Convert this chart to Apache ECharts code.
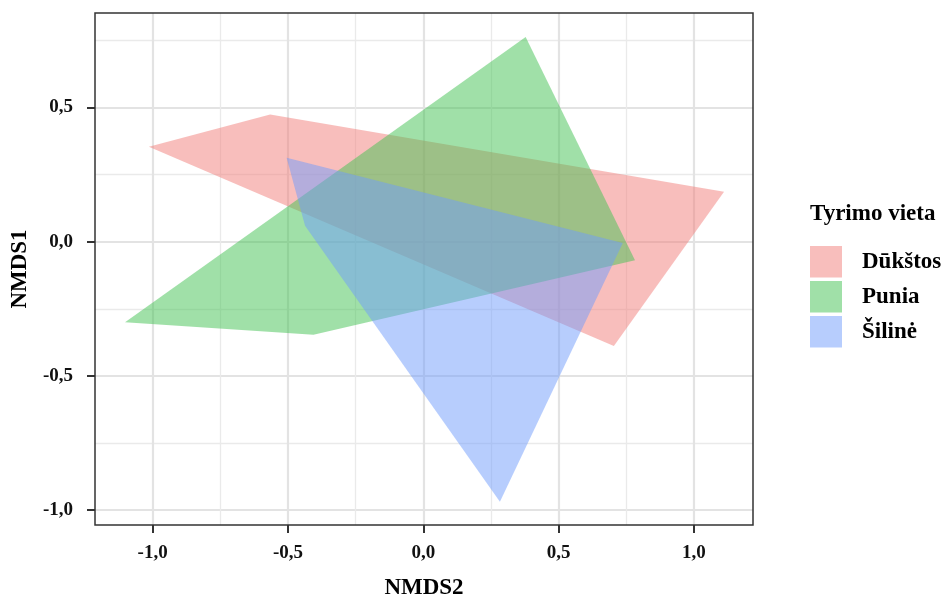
<!DOCTYPE html>
<html>
<head>
<meta charset="utf-8">
<script src="https://cdn.jsdelivr.net/npm/echarts@6/dist/echarts.min.js"></script>
<style>
html,body{margin:0;padding:0;background:#fff;overflow:hidden;}
#chart{width:947px;height:605px;}
</style>
</head>
<body>
<div id="chart"></div>
<script>
// ---- data ----
const groups = ['Dūkštos', 'Punia', 'Šilinė'];
const dukstosX = [-1.014, -0.566, 1.111, 0.704];
const dukstosY = [0.353, 0.473, 0.186, -0.389];
const puniaX = [0.378, 0.782, -0.406, -1.102];
const puniaY = [0.762, -0.069, -0.347, -0.300];
const silineX = [-0.505, 0.737, 0.283, -0.437];
const silineY = [0.312, -0.005, -0.968, 0.059];
const xMajorTicks = [-1.0, -0.5, 0.0, 0.5, 1.0];
const xMinorTicks = [-0.75, -0.25, 0.25, 0.75];
const yMajorTicks = [-1.0, -0.5, 0.0, 0.5];
const yMinorTicks = [-0.75, -0.25, 0.25, 0.75];
const xTitle = 'NMDS2';
const yTitle = 'NMDS1';
const legendTitle = 'Tyrimo vieta';

// ---- styling ----
const xRange = [-1.213, 1.218];
const yRange = [-1.055, 0.851];
const fills = ['rgba(241,125,121,0.5)', 'rgba(65,193,81,0.5)', 'rgba(111,155,251,0.5)'];
const FONT = "'Liberation Serif', 'Times New Roman', serif";
const fmt = v => v.toFixed(1).replace('.', ',');

const polys = [
  dukstosX.map((x, i) => [x, dukstosY[i]]),
  puniaX.map((x, i) => [x, puniaY[i]]),
  silineX.map((x, i) => [x, silineY[i]])
];

function makeSeries(idx) {
  const pts = polys[idx];
  return {
    type: 'custom',
    name: groups[idx],
    xAxisIndex: 0, yAxisIndex: 0,
    coordinateSystem: 'cartesian2d',
    data: pts,
    encode: { x: 0, y: 1 },
    itemStyle: { color: fills[idx] },
    z: 2 + idx,
    silent: true,
    renderItem: function (params, api) {
      if (params.dataIndex !== 0) return null;
      const pp = pts.map(p => api.coord(p));
      return { type: 'polygon', shape: { points: pp }, style: { fill: fills[idx] } };
    }
  };
}

const chart = echarts.init(document.getElementById('chart'), null, { renderer: 'canvas', width: 947, height: 605 });
chart.setOption({
  animation: false,
  backgroundColor: '#ffffff',
  grid: { left: 95, top: 13, width: 658, height: 517, show: true, borderColor: '#333333', borderWidth: 1.5, backgroundColor: 'transparent', z: 10 },
  title: {
    text: legendTitle, left: 810, top: 203, padding: 0,
    textStyle: { fontFamily: FONT, fontWeight: 'bold', fontSize: 23, color: '#000' }
  },
  legend: {
    data: groups, orient: 'vertical', left: 810, top: 246, padding: 0,
    itemWidth: 32, itemHeight: 31.5, itemGap: 3.5, icon: 'rect',
    selectedMode: false,
    textStyle: { fontFamily: FONT, fontWeight: 'bold', fontSize: 23, color: '#000', padding: [0, 0, 0, 15] }
  },
  xAxis: [
    {
      type: 'value', min: xRange[0], max: xRange[1], position: 'bottom',
      name: xTitle, nameLocation: 'middle', nameGap: 52,
      nameTextStyle: { fontFamily: FONT, fontWeight: 'bold', fontSize: 23, color: '#000' },
      axisLine: { show: false, onZero: false },
      axisTick: { show: true, customValues: xMajorTicks, length: 8, lineStyle: { color: '#333', width: 2 } },
      axisLabel: { customValues: xMajorTicks, formatter: fmt, margin: 19, fontFamily: FONT, fontWeight: 'bold', fontSize: 19, color: '#111' },
      splitLine: { show: true, lineStyle: { color: '#E3E3E3', width: 2.2 } }
    },
    {
      type: 'value', min: xRange[0], max: xRange[1], position: 'bottom',
      axisLine: { show: false, onZero: false },
      axisTick: { show: false, customValues: xMinorTicks },
      axisLabel: { show: false, customValues: xMinorTicks },
      splitLine: { show: true, lineStyle: { color: '#EAEAEA', width: 1.3 } }
    }
  ],
  yAxis: [
    {
      type: 'value', min: yRange[0], max: yRange[1], position: 'left',
      name: yTitle, nameLocation: 'middle', nameGap: 63, nameRotate: 90,
      nameTextStyle: { fontFamily: FONT, fontWeight: 'bold', fontSize: 23, color: '#000' },
      axisLine: { show: false, onZero: false },
      axisTick: { show: true, customValues: yMajorTicks, length: 8, lineStyle: { color: '#333', width: 2 } },
      axisLabel: { customValues: yMajorTicks, formatter: fmt, margin: 22, fontFamily: FONT, fontWeight: 'bold', fontSize: 19, color: '#111' },
      splitLine: { show: true, lineStyle: { color: '#E3E3E3', width: 2.2 } }
    },
    {
      type: 'value', min: yRange[0], max: yRange[1], position: 'left',
      axisLine: { show: false, onZero: false },
      axisTick: { show: false, customValues: yMinorTicks },
      axisLabel: { show: false, customValues: yMinorTicks },
      splitLine: { show: true, lineStyle: { color: '#EAEAEA', width: 1.3 } }
    }
  ],
  series: [makeSeries(0), makeSeries(1), makeSeries(2)]
});
</script>
</body>
</html>
